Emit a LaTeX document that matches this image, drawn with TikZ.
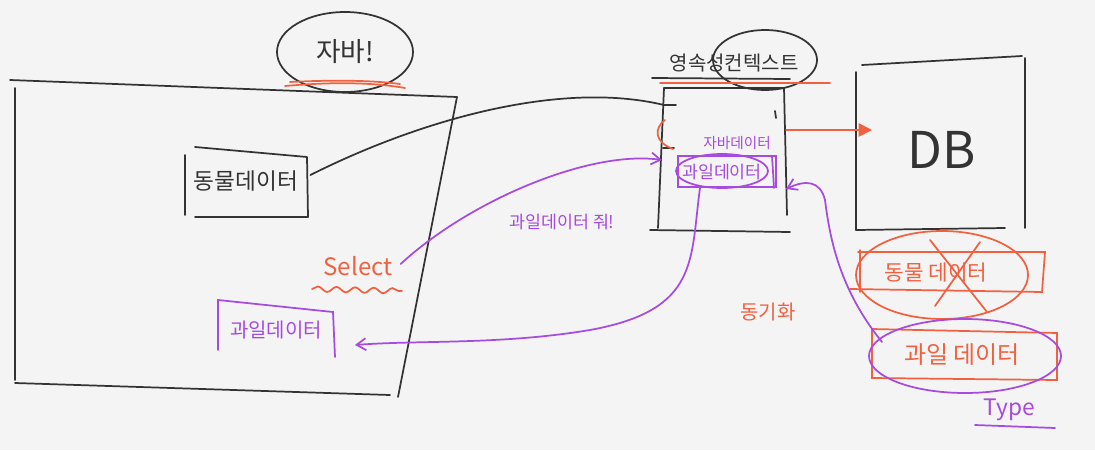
\documentclass[tikz,border=0pt]{standalone}
\usepackage{fontspec}
\newfontfamily\kr{Noto Sans CJK KR}
\usetikzlibrary{arrows.meta,decorations.pathmorphing}
\definecolor{bg}{HTML}{F4F4F4}
\definecolor{ink}{HTML}{333333}
\definecolor{pur}{HTML}{A64AE0}
\definecolor{rd}{HTML}{F2613F}
\tikzset{
  blk/.style={draw=ink, line width=1.3pt, line cap=round, line join=round},
  pline/.style={draw=pur, line width=1.3pt, line cap=round},
  rline/.style={draw=rd, line width=1.3pt, line cap=round},
  txt/.style={inner sep=0pt, font=\kr},
  parrow/.style={pline, -{Straight Barb[length=7pt,width=9pt]}},
}
\begin{document}
\begin{tikzpicture}[x=0.75pt,y=-0.75pt]
\useasboundingbox (0,0) rectangle (1095,450);
\fill[bg] (0,0) rectangle (1095,450);

% ---------- Java box ----------
\draw[blk] (10,80) -- (457,97) -- (398,397);
\draw[blk] (15,88) -- (15,380);
\draw[blk] (15,383) -- (390,395);
\node[txt, font=\kr\fontsize{20}{24}\selectfont, text=ink] (java) at (345,52) {자바!};
\draw[blk] (java) ellipse [x radius=68, y radius=40];
\draw[rline] (285,86) .. controls (330,82) and (370,82) .. (405,88);
\draw[rline] (290,82) .. controls (330,80) and (370,80) .. (400,84);

% animal data box
\node[txt, font=\kr\fontsize{17}{20}\selectfont, text=ink] (animal) at (246,181) {동물데이터};
\draw[blk] (185,155) -- (185,215);
\draw[blk] (195,147) -- (307,157) -- (308,217) -- (195,217);

% left fruit data box
\node[txt, font=\kr\fontsize{15}{18}\selectfont, text=pur] (fruitL) at (276,330) {과일데이터};
\draw[pline] (218,350) -- (218,300) -- (333,312) -- (335,357);

% Select
\node[txt, font=\kr\fontsize{18}{22}\selectfont, text=rd] (select) at (358,266) {Select};
\draw[rline, decorate, decoration={snake, amplitude=2pt, segment length=14pt}] (312,289) -- (402,291);

% ---------- persistence context ----------
\node[txt, font=\kr\fontsize{15}{18}\selectfont, text=ink] (pc) at (734,63) {영속성컨텍스트};
\draw[blk] (765,60) ellipse [x radius=52, y radius=30];
\draw[rline] (660,83) -- (830,83);
\draw[blk] (652,78) -- (790,79);
\draw[blk] (664,88) -- (784,88);
\draw[blk] (664,88) -- (658,228);
\draw[blk] (784,88) -- (787,215);
\draw[blk] (650,230) -- (790,232);
\draw[blk] (664,105) -- (676,105);
\draw[blk] (663,148) -- (674,148);
\draw[blk] (775,111) -- (776,118);
\draw[rline] (665,120) .. controls (654,128) and (654,142) .. (673,149);

\node[txt, font=\kr\fontsize{11}{13}\selectfont, text=pur] (javadata) at (737,143) {자바데이터};
\node[txt, font=\kr\fontsize{13}{16}\selectfont, text=pur] (fruitP) at (722,172) {과일데이터};
\draw[pline] (678,156) rectangle (776,187);
\draw[pline] (772,156) -- (774,188);
\draw[pline] (722,171) ellipse [x radius=46, y radius=17];

% ---------- DB ----------
\node[txt, font=\kr\fontsize{38}{44}\selectfont, text=ink] (db) at (942,150) {DB};
\draw[blk] (862,65) -- (1022,56);
\draw[blk] (856,72) -- (856,230);
\draw[blk] (1025,58) -- (1025,228);
\draw[blk] (856,230) -- (1005,228);

% red arrow to DB
\coordinate (dbin) at (872,130);
\draw[rline, -{Triangle[length=10pt,width=10pt]}] (786,130) -- (dbin);

% crossed animal data
\node[txt, font=\kr\fontsize{16}{20}\selectfont, text=rd] (animalR) at (936,273) {동물 데이터};
\draw[rline] (858,252) -- (1045,252) -- (1042,292) -- (850,289);
\draw[rline] (860,250) -- (860,292);
\draw[rline] (942,275) ellipse [x radius=86, y radius=44];
\draw[rline] (930,240) -- (987,312);
\draw[rline] (980,242) -- (935,306);

% fruit data (DB)
\node[txt, font=\kr\fontsize{18}{22}\selectfont, text=rd] (fruitR) at (962,355) {과일 데이터};
\draw[rline] (872,329) -- (1057,333) -- (1057,380) -- (872,378) -- cycle;
\draw[pline] (965,356) ellipse [x radius=96, y radius=37];

% Type
\node[txt, font=\kr\fontsize{17}{20}\selectfont, text=pur] (type) at (1009,410) {Type};
\draw[pline] (975,425) -- (1055,428);

% 동기화
\node[txt, font=\kr\fontsize{15}{18}\selectfont, text=rd] (sync) at (768,312) {동기화};

% ---------- connectors ----------
\draw[blk] (animal.east) ++(12,-6) .. controls (420,120) and (560,80) .. (664,105);
\node[txt, font=\kr\fontsize{13}{16}\selectfont, text=pur] (give) at (562,222) {과일데이터 줘!};
\draw[parrow] (select.east) ++(8,-2) .. controls (470,200) and (590,150) .. (662,160);
\draw[parrow] (700,188) .. controls (690,260) and (700,310) .. (590,330)
   .. controls (500,345) and (420,340) .. (355,345);
\draw[parrow] (882,342) .. controls (840,290) and (830,240) .. (825,200)
   .. controls (820,180) and (805,180) .. (786,189);
\end{tikzpicture}
\end{document}
